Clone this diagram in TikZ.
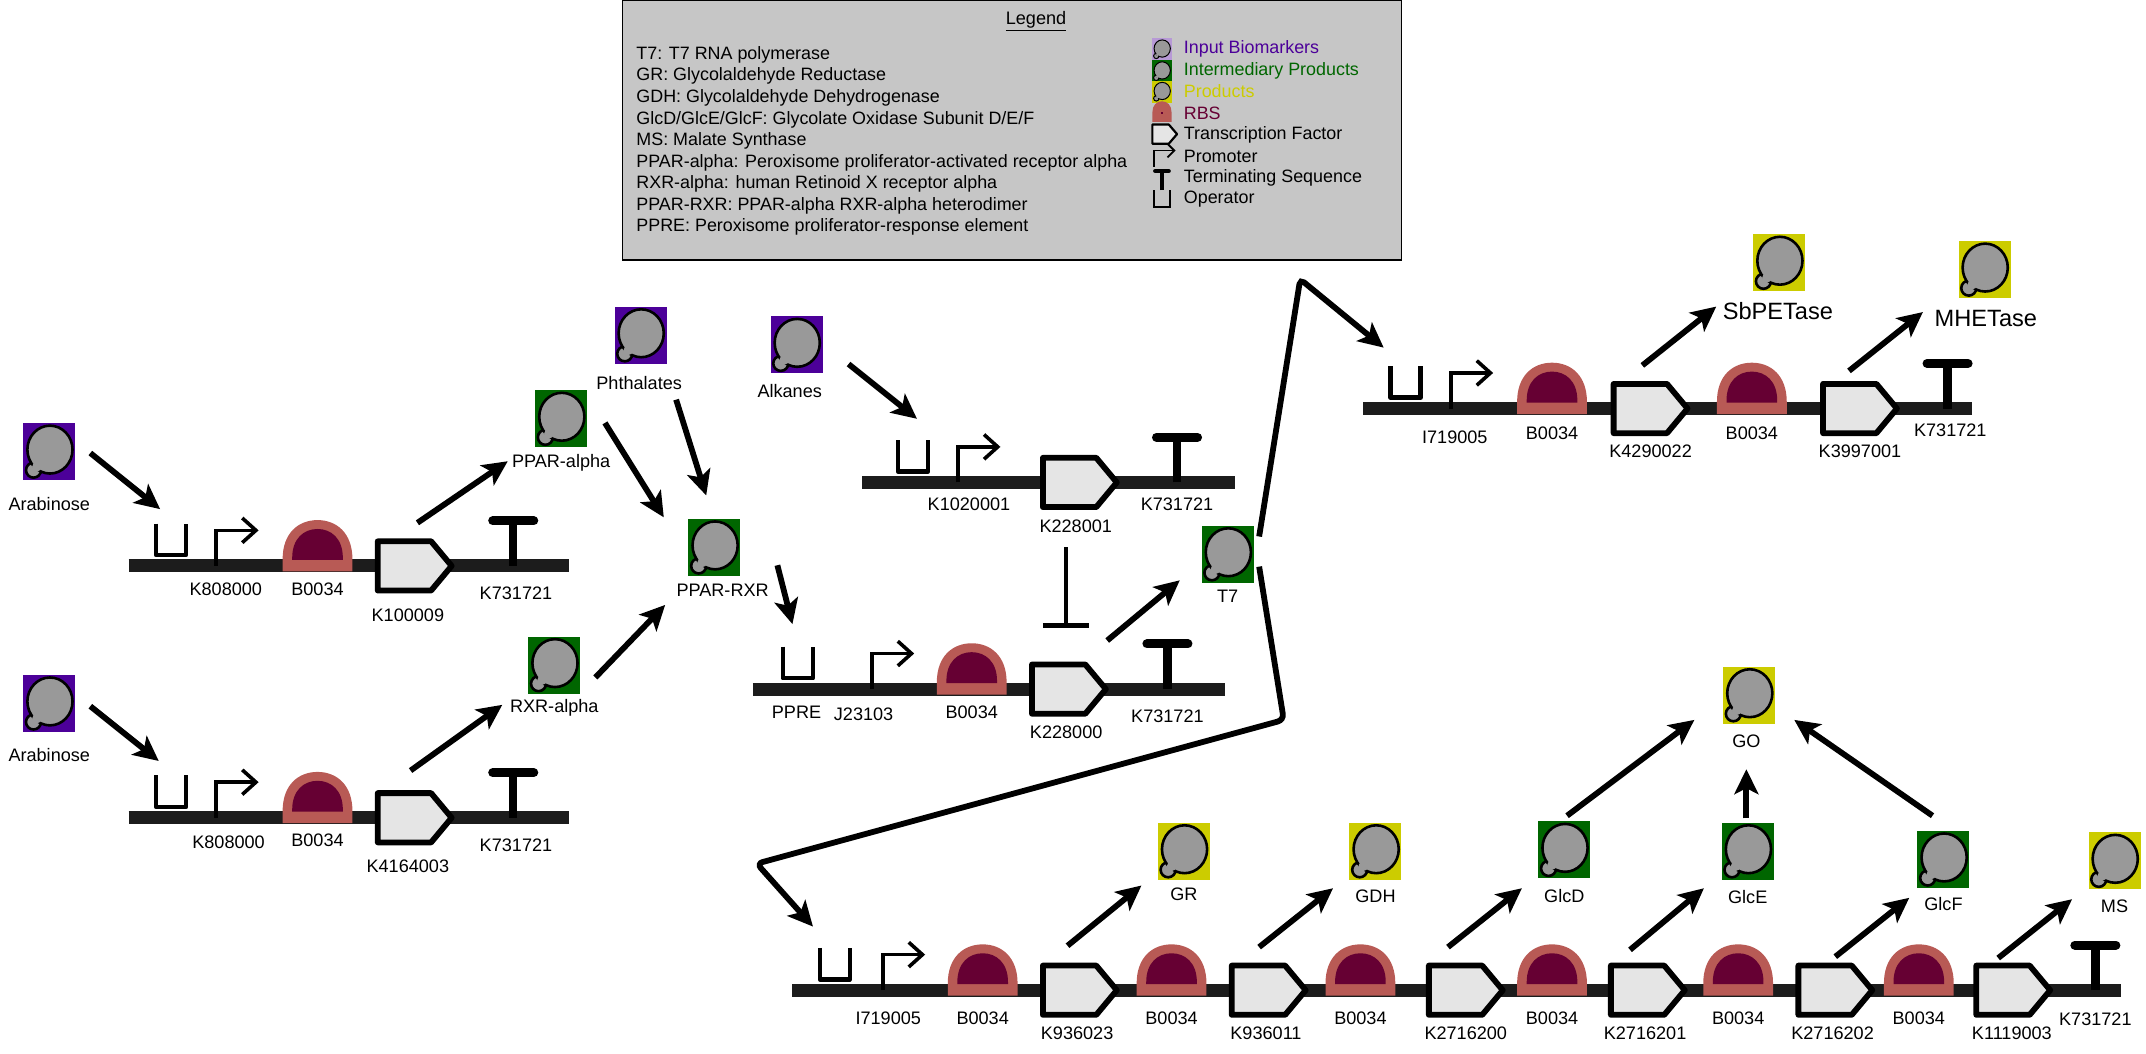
\documentclass[tikz,border=0pt]{standalone}
\usepackage{fontspec}
\setmainfont{Liberation Sans}
\usetikzlibrary{arrows.meta,calc}
\definecolor{inp}{HTML}{4C0099}
\definecolor{inter}{HTML}{006600}
\definecolor{prod}{HTML}{CCCC00}
\definecolor{rbsout}{HTML}{B85A55}
\definecolor{rbsin}{HTML}{660033}
\definecolor{bb}{HTML}{1C1C1C}
\definecolor{legbg}{HTML}{C6C6C6}
\newcounter{lblc}
\tikzset{
  x=1.3686pt,y=-1.3686pt,
  every node/.style={font=\fontsize{18.1}{20}\selectfont,inner sep=0pt,outer sep=0pt},
  arr/.style={line width=5.8pt,-{Stealth[length=25pt,width=24pt,inset=6pt]}},
  bone/.style={line width=13pt,color=bb},
  protbox/.style={minimum width=52pt,minimum height=57pt,draw=none},
  lgline/.style={anchor=west,font=\fontsize{17.9}{20}\selectfont},
  oper/.pic={\draw[line width=4.6pt,line join=round] (-11,-31)--(-11,-8)--(11,-8)--(11,-31);},
  prom/.pic={\draw[line width=3.6pt] (0,0)--(0,-26)--(28,-26);
             \draw[line width=3.6pt] (19,-35)--(29,-26)--(19,-17);},
  rbs/.pic={\fill[rbsout] (-25.5,4)--(-25.5,-5) .. controls (-25.5,-24) and (-14,-33.5) .. (0,-33.5) .. controls (14,-33.5) and (25.5,-24) .. (25.5,-5)--(25.5,4)--cycle;
            \fill[rbsin] (-18.5,-4.4)--(-18.5,-6) .. controls (-18.5,-20) and (-10,-27) .. (0,-27) .. controls (10,-27) and (18.5,-20) .. (18.5,-6)--(18.5,-4.4)--cycle;},
  cds/.pic={\draw[line width=5.8pt,fill=black!10,line join=round] (0,-18)--(39,-18)--(54,0)--(39,18)--(0,18)--cycle;},
  term/.pic={\draw[line width=8.5pt] (0,0)--(0,-33);
             \draw[line width=9pt,line cap=round] (-15,-33)--(15,-33);},
}
\newcommand{\glyph}[5]{% x y xscale yscale lw
  \begin{scope}[shift={(#1,#2)},xscale=#3,yscale=#4]
  \draw[line width=#5,fill=black!40] (-11.5,13.5) circle[radius=5.5];
  \draw[line width=#5,fill=black!40] (0.5,-1.5) ellipse[x radius=16.5,y radius=17.5];
  \fill[black!40] (-9,11) circle[radius=3.5];
  \end{scope}}
\newcommand{\prot}[7]{% name x y colour label-x label-y label
  \node[protbox,fill=#4] (#1) at (#2,#3) {};
  \glyph{#2}{#3}{1}{1}{2.6pt}
  \node (#1L) at (#5,#6) {#7};}
\newcommand{\plbl}[3]{\stepcounter{lblc}\node (part\thelblc) at (#1,#2+0.7) {#3};}
\newcommand{\conn}[3]{\coordinate (#1s) at (#2);\coordinate (#1e) at (#3);\draw[arr] (#1s)--(#1e);}
\begin{document}
\begin{tikzpicture}
\useasboundingbox (0,0) rectangle (1568,770.1);
% legend
\node[draw=black,line width=1.3pt,fill=legbg,minimum width=779pt,minimum height=260pt,anchor=north west] (legend) at (455,0) {};
\node (legt) at (757,15.5) {\underline{Legend}};
\foreach \yy/\tt in {40/{T7: T7 RNA polymerase},55.6/{GR: Glycolaldehyde Reductase},71.5/{GDH: Glycolaldehyde Dehydrogenase},87.3/{GlcD/GlcE/GlcF: Glycolate Oxidase Subunit D/E/F},103/{MS: Malate Synthase},118.8/{PPAR-alpha: Peroxisome proliferator-activated receptor alpha},134.6/{RXR-alpha: human Retinoid X receptor alpha},150.3/{PPAR-RXR: PPAR-alpha RXR-alpha heterodimer},166/{PPRE: Peroxisome proliferator-response element}}
  {\node[lgline] (leg\yy) at (465,\yy) {\tt};}
\fill[inp!40] (842,28) rectangle (856,44);
\fill[inter] (842,44) rectangle (856,59);
\fill[prod] (842,59) rectangle (856,75);
\glyph{849}{36}{0.36}{0.36}{1pt}
\glyph{849}{52}{0.36}{0.36}{1pt}
\glyph{849}{67}{0.36}{0.36}{1pt}
\fill[rbsout] (842,89)--(842,82) .. controls (842,77) and (845,74) .. (849,74) .. controls (853,74) and (856,77) .. (856,82)--(856,89)--cycle;
\fill[rbsin] (848,81.5) rectangle (850,83);
\draw[line width=2.2pt,fill=black!10,line join=round] (842,91)--(854,91)--(860,98)--(854,105)--(842,105)--cycle;
\draw[line width=1.8pt] (843,122)--(843,110)--(857,110);
\draw[line width=1.8pt] (853,105)--(858,110)--(853,115);
\draw[line width=4pt] (849,139)--(849,125);
\draw[line width=4pt,line cap=round] (844,125)--(854,125);
\draw[line width=2pt] (843,139)--(843,151)--(855,151)--(855,139);
\node[lgline,text=inp] (li1) at (865,35.5) {Input Biomarkers};
\node[lgline,text=inter] (li2) at (865,51.5) {Intermediary Products};
\node[lgline,text=prod] (li3) at (865,66.5) {Products};
\node[lgline,text=rbsin] (li4) at (865,82.5) {RBS};
\node[lgline] (li5) at (865,98.5) {Transcription Factor};
\node[lgline] (li6) at (865,114) {Promoter};
\node[lgline] (li7) at (865,130) {Terminating Sequence};
\node[lgline] (li8) at (865,145.5) {Operator};
% row 1
\draw[bone] (94,413.5)--(416,413.5);
\pic at (125,413.5) {oper}; \pic at (158,413.5) {prom}; \pic at (232,413.5) {rbs}; \pic at (276,413.5) {cds}; \pic at (375,413.5) {term};
\plbl{165}{430}{K808000}\plbl{232}{430}{B0034}\plbl{298}{449}{K100009}\plbl{377}{433}{K731721}
% row 2
\draw[bone] (94,597.5)--(416,597.5);
\pic at (125,597.5) {oper}; \pic at (158,597.5) {prom}; \pic at (232,597.5) {rbs}; \pic at (276,597.5) {cds}; \pic at (375,597.5) {term};
\plbl{167}{615}{K808000}\plbl{232}{613}{B0034}\plbl{298}{632}{K4164003}\plbl{377}{617}{K731721}
% row 3
\draw[bone] (630,352.5)--(902,352.5);
\pic at (667,352.5) {oper}; \pic at (700,352.5) {prom}; \pic at (762,352.5) {cds}; \pic at (860,352.5) {term};
\plbl{708}{368}{K1020001}\plbl{786}{384}{K228001}\plbl{860}{368}{K731721}
% row 4
\draw[bone] (550,503.5)--(895,503.5);
\pic at (583,503.5) {oper}; \pic at (637,503.5) {prom}; \pic at (710,503.5) {rbs}; \pic at (754,503.5) {cds}; \pic at (853,503.5) {term};
\plbl{582}{520}{PPRE}\plbl{631}{521}{J23103}\plbl{710}{520}{B0034}\plbl{779}{534}{K228000}\plbl{853}{523}{K731721}
% row 5
\draw[bone] (996,298.5)--(1441,298.5);
\pic at (1027,298.5) {oper}; \pic at (1060,298.5) {prom}; \pic at (1134,298.5) {rbs}; \pic at (1179,298.5) {cds}; \pic at (1280,298.5) {rbs}; \pic at (1332,298.5) {cds}; \pic at (1423,298.5) {term};
\plbl{1063}{319}{I719005}\plbl{1134}{316}{B0034}\plbl{1206}{329}{K4290022}\plbl{1280}{316}{B0034}\plbl{1359}{329}{K3997001}\plbl{1425}{314}{K731721}
% row 6
\draw[bone] (579,723.5)--(1550,723.5);
\pic at (610,723.5) {oper}; \pic at (645,723.5) {prom};
\foreach \r in {718,856,994,1134,1270,1402} {\pic at (\r,723.5) {rbs};}
\foreach \c in {762,900,1044,1177,1314,1444} {\pic at (\c,723.5) {cds};}
\pic at (1531,723.5) {term};
\plbl{649}{743}{I719005}\plbl{718}{743}{B0034}\plbl{787}{754}{K936023}\plbl{856}{743}{B0034}\plbl{925}{754}{K936011}\plbl{994}{743}{B0034}\plbl{1071}{754}{K2716200}\plbl{1134}{743}{B0034}\plbl{1202}{754}{K2716201}\plbl{1270}{743}{B0034}\plbl{1339}{754}{K2716202}\plbl{1402}{743}{B0034}\plbl{1470}{754}{K1119003}\plbl{1531}{744}{K731721}
% proteins
\prot{ara1}{36}{330}{inp}{36}{368}{Arabinose}
\prot{ara2}{36}{514}{inp}{36}{552}{Arabinose}
\prot{ppara}{410}{306}{inter}{410}{338}{PPAR-alpha}
\prot{rxra}{405}{486}{inter}{405}{517}{RXR-alpha}
\prot{phth}{468}{245}{inp}{467}{279.5}{Phthalates}
\prot{alk}{582}{252}{inp}{577}{285.5}{Alkanes}
\prot{pprxr}{522}{400}{inter}{528}{431}{PPAR-RXR}
\prot{tseven}{897}{405}{inter}{897}{436}{T7}
\prot{sbp}{1300}{192}{prod}{1299}{227.5}{\fontsize{23.6}{26}\selectfont SbPETase}
\prot{mhe}{1450}{197}{prod}{1451}{232.5}{\fontsize{23.6}{26}\selectfont MHETase}
\prot{go}{1278}{508}{prod}{1276}{541.5}{GO}
\prot{glcd}{1143}{621}{inter}{1143}{654.5}{GlcD}
\prot{glce}{1277}{622}{inter}{1277}{655.5}{GlcE}
\prot{glcf}{1420}{628}{inter}{1420}{660.5}{GlcF}
\prot{gr}{865}{622}{prod}{865}{653.5}{GR}
\prot{gdh}{1005}{622}{prod}{1005}{654.5}{GDH}
\prot{ms}{1545}{629}{prod}{1545}{662.5}{MS}
% connectors
\conn{a1}{66,331}{117,372}
\conn{a2}{305,382}{371,337}
\conn{a3}{66,516}{116,556}
\conn{a4}{300,563}{367,515}
\conn{a5}{442,309}{485,378}
\conn{a6}{494,292}{516,362}
\conn{a7}{435,495}{486,442}
\conn{a8}{568,413}{579,456}
\conn{a9}{620,266}{670,306}
\conn{a10}{809,468}{862,424}
\conn{a11}{1200,267}{1254,224}
\conn{a12}{1351,271}{1405,228}
\conn{a13}{780,691}{834,647}
\conn{a14}{920,692}{974,649}
\conn{a15}{1058,692}{1112,649}
\conn{a16}{1191,694}{1245,649}
\conn{a17}{1341,699}{1395,656}
\conn{a18}{1460,700}{1514,657}
\conn{a19}{1145,596}{1238,526}
\conn{a20}{1276,598}{1276,562}
\conn{a21}{1412,596}{1311,526}
% branched T7 connectors
\coordinate (b1s) at (920,392);\coordinate (b1m) at (950,204);\coordinate (b1e) at (1011,254);
\draw[arr,rounded corners=5pt] (b1s)--(b1m)--(b1e);
\coordinate (b2s) at (920,414);\coordinate (b2m) at (938,526);\coordinate (b2n) at (553,631);\coordinate (b2e) at (594,677);
\draw[arr,rounded corners=6pt] (b2s)--(b2m)--(b2n)--(b2e);
% inhibition
\coordinate (inhs) at (779,400);\coordinate (inhe) at (779,457);
\coordinate (inhl) at (762,457);\coordinate (inhr) at (796,457);
\draw[line width=4.6pt] (inhs)--(inhe);
\draw[line width=4.2pt] (inhl)--(inhr);
\end{tikzpicture}
\end{document}
